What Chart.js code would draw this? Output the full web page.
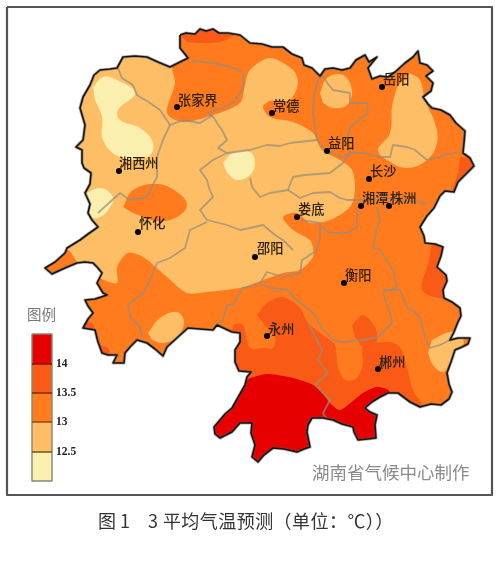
<!DOCTYPE html>
<html><head><meta charset="utf-8">
<style>html,body{margin:0;padding:0;background:#fff}canvas{display:block;filter:blur(.5px)}</style>
<script src="https://cdn.jsdelivr.net/npm/chart.js@4/dist/chart.umd.min.js"></script>
</head><body><canvas id="c" width="500" height="564"></canvas>
<script>
const outline=[[180,35],[186,33],[195,34],[200,29],[206,31],[213,29],[219,33],[228,33],[240,35],[250,43],[262,44],[272,47],[283,47],[292,54],[302,58],[304,65],[312,68],[320,76],[325,69],[333,68],[342,70],[350,68],[356,60],[365,55],[369,62],[377,57],[372,63],[368,68],[372,79],[380,76],[388,77],[395,72],[405,63],[413,57],[418,51],[420,63],[427,65],[433,71],[426,76],[433,83],[431,91],[423,97],[428,104],[432,108],[441,110],[450,115],[456,123],[465,131],[464,143],[463,153],[470,158],[474,166],[466,174],[458,182],[454,192],[445,191],[440,196],[434,208],[427,216],[420,227],[424,236],[425,243],[435,244],[443,247],[441,256],[437,267],[446,275],[447,281],[443,290],[444,298],[452,302],[460,308],[461,316],[458,322],[454,332],[450,340],[458,338],[470,338],[468,344],[462,347],[455,350],[451,362],[447,373],[449,384],[452,392],[449,399],[441,405],[431,404],[420,407],[410,402],[398,393],[388,393],[380,397],[372,402],[365,408],[370,412],[377,415],[375,425],[376,438],[368,439],[358,440],[354,432],[353,427],[342,424],[333,420],[323,418],[312,418],[308,425],[307,432],[310,447],[304,449],[297,452],[284,449],[273,448],[264,455],[258,462],[252,457],[255,445],[251,433],[252,423],[240,423],[232,432],[220,438],[215,434],[214,427],[225,414],[232,408],[245,385],[247,377],[251,372],[239,371],[235,362],[235,350],[240,342],[240,333],[232,332],[217,325],[213,330],[200,329],[188,328],[178,337],[167,347],[163,356],[155,349],[147,343],[137,340],[131,346],[125,353],[124,363],[113,363],[117,355],[108,355],[102,353],[98,342],[95,330],[83,328],[88,319],[93,313],[88,306],[85,300],[95,299],[107,295],[103,293],[97,283],[102,273],[97,267],[93,263],[85,262],[77,263],[65,268],[52,274],[45,268],[55,262],[65,253],[67,248],[80,240],[88,234],[98,227],[92,220],[88,213],[90,204],[85,193],[90,184],[91,173],[84,168],[82,163],[82,150],[76,147],[83,140],[85,125],[80,108],[83,97],[90,85],[94,75],[100,70],[110,69],[117,68],[123,57],[135,56],[147,57],[158,62],[170,67],[180,62],[188,58],[180,48],[180,35]];

const frameBox=[[0,0],[500,0],[500,564],[0,564],[0,0]];

const lightWest=[[30,40],[172,40],[172,68],[175,83],[167,113],[183,122],[213,115],[240,103],[245,85],[250,70],[270,58],[293,70],[298,83],[290,100],[270,101],[263,107],[270,117],[293,122],[313,133],[322,150],[340,160],[352,170],[355,190],[350,207],[330,220],[310,223],[297,213],[283,217],[293,230],[310,240],[313,248],[313,257],[300,270],[283,273],[250,285],[240,288],[207,292],[187,293],[167,277],[143,257],[128,253],[117,267],[117,283],[100,278],[78,263],[68,250],[30,240]];
const darkSouth=[[257,315],[267,303],[283,297],[300,308],[308,323],[327,338],[335,345],[338,367],[345,380],[357,378],[363,363],[363,347],[387,342],[400,347],[407,367],[413,390],[423,407],[425,470],[200,470],[200,380],[226,350],[234,325],[243,325],[250,348],[263,348],[273,348],[275,337],[267,328]];
const darkSpot=[[352,325],[363,315],[375,327],[377,340],[366,350],[355,337]];
const darkNorth=[[182,37],[190,25],[200,22],[233,25],[233,35],[220,42],[200,43],[187,42]];
const darkEastTip=[[460,157],[480,160],[480,175],[453,192],[458,173]];
const darkEast=[[432,244],[428,263],[422,290],[443,298],[455,283],[455,250],[445,240]];
const darkSW1=[[82,322],[92,323],[95,334],[85,333]];
const darkSW2=[[98,345],[108,348],[110,358],[100,356]];
const orangeHuaihua=[[123,207],[133,190],[157,184],[177,192],[187,205],[177,217],[157,221],[133,213]];
const lightYueyang=[[410,73],[420,80],[425,100],[435,123],[437,143],[427,160],[407,168],[387,160],[378,150],[390,133],[392,107],[397,87]];
const lightYiyang=[[320,93],[327,78],[343,75],[352,90],[347,105],[333,108],[323,103]];
const lightSW=[[148,333],[160,318],[177,312],[184,322],[177,337],[163,343],[152,340]];
const lightSE=[[432,340],[450,332],[462,336],[462,350],[450,363],[443,372],[433,365],[428,353]];
const paleNW=[[93,87],[103,77],[117,80],[135,93],[118,110],[120,120],[140,128],[153,143],[148,157],[120,157],[103,140],[102,117],[95,100]];
const paleCentre=[[223,163],[233,153],[250,152],[255,163],[250,175],[237,180],[227,173]];
const paleWest=[[80,197],[100,188],[113,197],[110,207],[100,217],[82,218]];
const redSouth=[[250,378],[267,374],[293,378],[317,387],[330,403],[340,410],[363,393],[377,387],[390,392],[400,470],[200,470],[200,425],[233,403],[243,383]];

const borders=[
[[192,61],[213,63],[230,67],[242,72],[244,82],[242,90],[233,103],[217,110],[208,113],[214,118],[217,123],[222,130],[227,140],[218,148],[227,153],[213,160],[200,170],[207,180],[209,188],[213,197],[206,204],[200,210],[207,220],[227,225],[240,230],[250,228],[263,225],[275,235],[283,240],[293,250]],
[[118,68],[122,78],[133,85],[137,95],[150,103],[160,110],[170,125],[183,120],[200,123],[213,115]],
[[170,125],[163,140],[157,157],[157,177],[147,197],[130,200],[120,193],[110,202],[98,213]],
[[227,153],[250,150],[267,145],[280,146],[290,143],[317,140]],
[[317,140],[313,113],[314,95],[318,80],[322,75],[328,84],[333,90],[350,93],[350,103],[367,103],[368,113],[350,127],[347,140],[350,153],[365,153],[380,157],[390,157],[393,145],[407,147],[415,150],[427,160],[445,155],[457,152]],
[[317,140],[325,150],[343,157],[350,153]],
[[350,153],[343,163],[330,173],[305,175],[293,177],[288,190],[270,193],[260,197],[252,187],[250,178]],
[[288,190],[300,198],[313,193],[330,192],[340,198],[347,200],[367,200],[385,198],[400,200],[427,203]],
[[377,207],[380,220],[377,227],[373,248],[380,250],[393,270],[397,287],[383,293],[390,313],[392,323],[378,337],[363,340],[343,342],[333,340],[322,328],[313,313],[297,300],[287,290],[270,288],[260,283],[267,272],[283,277],[300,273],[302,260],[307,257],[317,250],[320,237],[320,223],[300,220]],
[[357,210],[357,227],[347,233],[330,233],[322,227]],
[[260,283],[250,287],[242,288],[233,305],[227,305],[223,320],[217,325]],
[[207,222],[190,230],[185,248],[170,258],[157,263],[150,280],[143,293],[128,305],[130,317],[140,327],[142,338]],
[[308,323],[316,338],[322,350],[318,360],[328,373],[315,385],[330,400],[323,413],[327,420]],
[[383,290],[400,290],[407,307],[420,317],[425,337],[430,348],[440,345],[450,340]]
];

const cityNames=["张家界","湘西州","怀化","常德","益阳","岳阳","长沙","湘潭","株洲","娄底","邵阳","衡阳","永州","郴州"];
const cityX=[177,119,138,272,327,382,369,361,389,297,255,344,267,378];
const cityY=[107,171,232,113,151,87,179,206,206,217,257,283,336,369];
const labelX=[178,119,139,273,328,383,370,362,390,298,257,345,268,379];
const labelY=[100,163,223,106,143,79,171,198,198,209,248,275,329,362];

const legendTicks=["14","13.5","13","12.5"];
const legendEdges=[334,364,393,422,452,481];
const legendColors=["#E60000","#F95B17","#FF7B1E","#FDBE66","#FBEFB0"];
const tickRows=[364,393,422,452];
const legendLeft=32, legendRight=52;

const toPts=a=>a.map(p=>({x:p[0],y:p[1]}));
const datasets=[];
const poly=(pts,color,tension)=>datasets.push({data:toPts(pts),showLine:true,fill:'shape',backgroundColor:color,borderWidth:0,borderColor:'transparent',pointRadius:0,tension:tension||0});
const path=(pts,color,w)=>datasets.push({data:toPts(pts),showLine:true,fill:false,borderColor:color,borderWidth:w,pointRadius:0,tension:0,borderJoinStyle:'round'});

const [cRed,cDark,cOrange,cLight,cPale]=legendColors;
poly(outline,cOrange);
poly(lightWest,cLight,.3);
[darkNorth,darkEastTip,darkEast,darkSouth,darkSpot,darkSW1,darkSW2].forEach(a=>poly(a,cDark,.3));
poly(redSouth,cRed,.25);
poly(orangeHuaihua,cOrange,.4);
[lightYueyang,lightYiyang,lightSW,lightSE].forEach(a=>poly(a,cLight,.4));
[paleNW,paleCentre,paleWest].forEach(a=>poly(a,cPale,.4));
borders.forEach(b=>path(b,'rgba(150,140,125,.72)',1.8));
// white mask outside the province: outer box joined to the reversed outline
poly(frameBox.concat([...outline].reverse()).concat([[0,0]]),'#FFFFFF');
path(outline,'rgba(90,90,90,.45)',3.2);
path(outline,'#151515',1.6);
// frame
path([[7,7],[492,7],[492,495],[7,495],[7,7]],'#555555',2.2);
// legend
legendColors.forEach((c,i)=>{
  const t=legendEdges[i],b=legendEdges[i+1];
  poly([[legendLeft,t],[legendRight,t],[legendRight,b],[legendLeft,b]],c);
});
path([[legendLeft,legendEdges[0]],[legendRight,legendEdges[0]],[legendRight,legendEdges[5]],[legendLeft,legendEdges[5]],[legendLeft,legendEdges[0]]],'#8A8670',1.4);
tickRows.forEach((y,i)=>path([[legendLeft,y],[legendRight,y]],['#7A1A00','#7A2A00','#8A4A10','#6B5520'][i],1.5));
// cities
datasets.push({data:cityX.map((x,i)=>({x,y:cityY[i]})),showLine:false,pointRadius:3,pointBackgroundColor:'#000',pointBorderWidth:0});
datasets.forEach((d,i)=>d.order=datasets.length-i);

const textPlugin={id:'mapText',afterDatasetsDraw(ch){
  const {ctx,scales:{x,y}}=ch;
  ctx.save();ctx.textBaseline='middle';ctx.textAlign='left';
  ctx.fillStyle='#2A220C';ctx.font='500 13.2px "Noto Sans CJK SC"';
  cityNames.forEach((n,i)=>ctx.fillText(n,x.getPixelForValue(labelX[i]),y.getPixelForValue(labelY[i])));
  ctx.fillStyle='#222';ctx.font='bold 11.5px "Liberation Serif"';
  legendTicks.forEach((t,i)=>ctx.fillText(t,x.getPixelForValue(56),y.getPixelForValue(tickRows[i])));
  ctx.fillStyle='#777';ctx.font='14.5px "Noto Sans CJK SC"';
  ctx.fillText("图例",x.getPixelForValue(27),y.getPixelForValue(314));
  ctx.fillStyle='#8A8A8A';ctx.font='17.5px "Noto Sans CJK SC"';
  ctx.fillText("湖南省气候中心制作",x.getPixelForValue(312),y.getPixelForValue(472));
  ctx.fillStyle='#333';ctx.font='18px "Noto Sans CJK SC"';
  ctx.fillText("图 1",x.getPixelForValue(98),y.getPixelForValue(521));
  ctx.letterSpacing='0.45px';
  ctx.fillText("3 平均气温预测（单位：℃））",x.getPixelForValue(148),y.getPixelForValue(521));
  ctx.restore();
}};

new Chart(document.getElementById('c'),{
  type:'scatter',
  data:{datasets},
  options:{responsive:false,animation:false,
    layout:{padding:0,autoPadding:false},
    plugins:{legend:{display:false},tooltip:{enabled:false}},
    scales:{x:{type:'linear',display:false,min:0,max:500},y:{type:'linear',display:false,min:0,max:564,reverse:true}}},
  plugins:[textPlugin]
});
</script></body></html>
